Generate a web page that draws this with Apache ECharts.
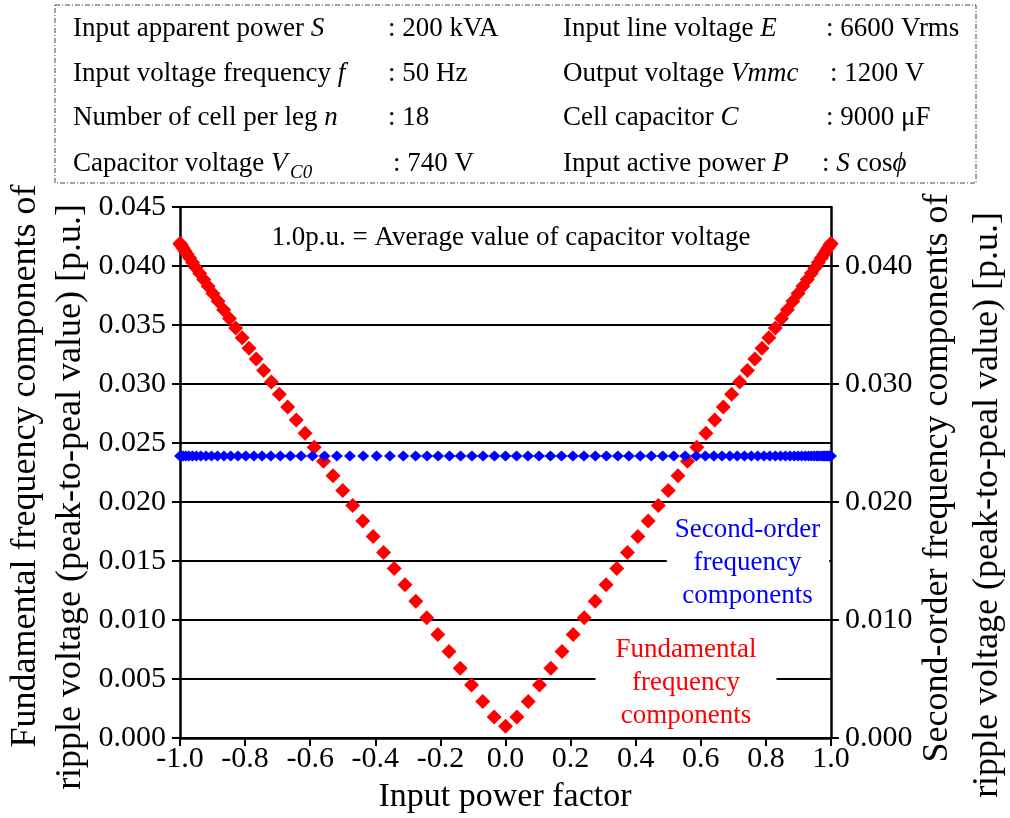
<!DOCTYPE html>
<html>
<head>
<meta charset="utf-8">
<script src="https://cdn.jsdelivr.net/npm/echarts@6/dist/echarts.min.js"></script>
<style>
  html, body { margin: 0; padding: 0; background: #fff; }
  #chart { width: 1010px; height: 818px; }
</style>
</head>
<body>
<div id="chart"></div>
<script>
// Input power factor (cos phi) for the fundamental-frequency ripple points
const fundX = [
  -1.0000, -0.9994, -0.9976, -0.9945, -0.9903, -0.9848, -0.9781, -0.9703, -0.9613, -0.9511,
  -0.9397, -0.9272, -0.9135, -0.8988, -0.8829, -0.8660, -0.8480, -0.8290, -0.8090, -0.7880,
  -0.7660, -0.7431, -0.7193, -0.6947, -0.6691, -0.6428, -0.6157, -0.5878, -0.5592, -0.5299,
  -0.5000, -0.4695, -0.4384, -0.4067, -0.3746, -0.3420, -0.3090, -0.2756, -0.2419, -0.2079,
  -0.1736, -0.1392, -0.1045, -0.0698, -0.0349, 0.0000,
  0.0349, 0.0698, 0.1045, 0.1392, 0.1736, 0.2079, 0.2419, 0.2756, 0.3090, 0.3420,
  0.3746, 0.4067, 0.4384, 0.4695, 0.5000, 0.5299, 0.5592, 0.5878, 0.6157, 0.6428,
  0.6691, 0.6947, 0.7193, 0.7431, 0.7660, 0.7880, 0.8090, 0.8290, 0.8480, 0.8660,
  0.8829, 0.8988, 0.9135, 0.9272, 0.9397, 0.9511, 0.9613, 0.9703, 0.9781, 0.9848,
  0.9903, 0.9945, 0.9976, 0.9994, 1.0000
];
// Fundamental-frequency ripple (peak-to-peak) [p.u.]
const fundY = [
  0.04191, 0.04189, 0.04181, 0.04168, 0.04151, 0.04128, 0.04099, 0.04067, 0.04029, 0.03986,
  0.03939, 0.03886, 0.03829, 0.03767, 0.03701, 0.03630, 0.03555, 0.03475, 0.03391, 0.03303,
  0.03211, 0.03115, 0.03016, 0.02913, 0.02805, 0.02695, 0.02582, 0.02465, 0.02345, 0.02222,
  0.02097, 0.01970, 0.01840, 0.01707, 0.01573, 0.01436, 0.01299, 0.01159, 0.01019, 0.00877,
  0.00734, 0.00592, 0.00449, 0.00309, 0.00177, 0.00100,
  0.00177, 0.00309, 0.00449, 0.00592, 0.00734, 0.00877, 0.01019, 0.01159, 0.01299, 0.01436,
  0.01573, 0.01707, 0.01840, 0.01970, 0.02097, 0.02222, 0.02345, 0.02465, 0.02582, 0.02695,
  0.02805, 0.02913, 0.03016, 0.03115, 0.03211, 0.03303, 0.03391, 0.03475, 0.03555, 0.03630,
  0.03701, 0.03767, 0.03829, 0.03886, 0.03939, 0.03986, 0.04029, 0.04067, 0.04099, 0.04128,
  0.04151, 0.04168, 0.04181, 0.04189, 0.04191
];
// Input power factor for the second-order ripple points
const secondX = [
  -1.000, -0.995, -0.990, -0.982, -0.973, -0.962, -0.950, -0.936, -0.920, -0.903,
  -0.885, -0.865, -0.844, -0.822, -0.798, -0.773, -0.748, -0.721, -0.692, -0.661,
  -0.628, -0.593, -0.556, -0.518, -0.478, -0.437, -0.396, -0.355, -0.314, -0.276,
  -0.241, -0.207, -0.172, -0.138, -0.103, -0.069, -0.034, 0.000, 0.034, 0.069,
  0.103, 0.138, 0.172, 0.207, 0.241, 0.276, 0.310, 0.345, 0.379, 0.414,
  0.448, 0.483, 0.517, 0.552, 0.586, 0.614, 0.640, 0.665, 0.689, 0.712,
  0.734, 0.755, 0.775, 0.794, 0.812, 0.829, 0.845, 0.860, 0.874, 0.887,
  0.899, 0.910, 0.921, 0.931, 0.940, 0.948, 0.956, 0.963, 0.970, 0.976,
  0.981, 0.986, 0.990, 0.994, 0.997, 1.000
];
// Second-order ripple (peak-to-peak) [p.u.]
const secondY = [
  0.0239, 0.0239, 0.0239, 0.0239, 0.0239, 0.0239, 0.0239, 0.0239, 0.0239, 0.0239,
  0.0239, 0.0239, 0.0239, 0.0239, 0.0239, 0.0239, 0.0239, 0.0239, 0.0239, 0.0239,
  0.0239, 0.0239, 0.0239, 0.0239, 0.0239, 0.0239, 0.0239, 0.0239, 0.0239, 0.0239,
  0.0239, 0.0239, 0.0239, 0.0239, 0.0239, 0.0239, 0.0239, 0.0239, 0.0239, 0.0239,
  0.0239, 0.0239, 0.0239, 0.0239, 0.0239, 0.0239, 0.0239, 0.0239, 0.0239, 0.0239,
  0.0239, 0.0239, 0.0239, 0.0239, 0.0239, 0.0239, 0.0239, 0.0239, 0.0239, 0.0239,
  0.0239, 0.0239, 0.0239, 0.0239, 0.0239, 0.0239, 0.0239, 0.0239, 0.0239, 0.0239,
  0.0239, 0.0239, 0.0239, 0.0239, 0.0239, 0.0239, 0.0239, 0.0239, 0.0239, 0.0239,
  0.0239, 0.0239, 0.0239, 0.0239, 0.0239, 0.0239
];
// Axis ticks of the right-hand scale
const rightTicks = [0, 0.01, 0.02, 0.03, 0.04];

// Parameter table (rich text: {i|...} is italic)
const paramLeftLabels = [
  '{n|Input apparent power }{i|S}',
  '{n|Input voltage frequency }{i|f}',
  '{n|Number of cell per leg }{i|n}',
  '{n|Capacitor voltage }{i|V}'
];
const paramLeftValues = [': 200 kVA', ': 50 Hz', ': 18', ': 740 V'];
const paramRightLabels = [
  '{n|Input line voltage }{i|E}',
  '{n|Output voltage }{i|Vmmc}',
  '{n|Cell capacitor }{i|C}',
  '{n|Input active power }{i|P}'
];
const paramRightValues = ['{n|: 6600 Vrms}', '{n|: 1200 V}', '{n|: 9000 μF}', '{n|: }{i|S}{n| cos}{i|ϕ}'];

const FONT = '"Liberation Serif", "Times New Roman", serif';
const chart = echarts.init(document.getElementById('chart'));

const rich = {
  n: { fontFamily: FONT, fontSize: 27, fill: '#000' },
  i: { fontFamily: FONT, fontSize: 27, fontStyle: 'italic', fill: '#000' }
};
const rowY = [29, 74, 118, 164];
const leftValueX = [388, 388, 388, 393];
const rightValueX = [826, 830, 826, 822];

const graphics = [];
graphics.push({
  type: 'rect', z: 1,
  shape: { x: 55, y: 5, width: 921, height: 178 },
  style: { fill: 'none', stroke: '#444', lineWidth: 1, lineDash: [5, 2, 1, 2] }
});
paramLeftLabels.forEach((t, i) => {
  graphics.push({ type: 'text', x: 73, y: rowY[i], z: 1,
    style: { text: t, rich: rich, align: 'left', verticalAlign: 'middle' } });
  graphics.push({ type: 'text', x: leftValueX[i], y: rowY[i], z: 1,
    style: { text: paramLeftValues[i], fontFamily: FONT, fontSize: 27, fill: '#000', align: 'left', verticalAlign: 'middle' } });
});
// subscript of V_C0
graphics.push({ type: 'text', x: 290, y: rowY[3] + 9, z: 1,
  style: { text: 'C0', fontFamily: FONT, fontSize: 19, fontStyle: 'italic', fill: '#000', align: 'left', verticalAlign: 'middle' } });
paramRightLabels.forEach((t, i) => {
  graphics.push({ type: 'text', x: 563, y: rowY[i], z: 1,
    style: { text: t, rich: rich, align: 'left', verticalAlign: 'middle' } });
  graphics.push({ type: 'text', x: rightValueX[i], y: rowY[i], z: 1,
    style: { text: paramRightValues[i], rich: rich, align: 'left', verticalAlign: 'middle' } });
});

// Annotations inside the plot
graphics.push({ type: 'text', x: 511, y: 238, z: 1,
  style: { text: '1.0p.u. = Average value of capacitor voltage', fontFamily: FONT, fontSize: 27, fill: '#000',
    align: 'center', verticalAlign: 'middle' } });
graphics.push({ type: 'text', x: 748, y: 563, z: 1,
  style: { text: 'Second-order\nfrequency\ncomponents', fontFamily: FONT, fontSize: 27, lineHeight: 33, fill: '#0000ff',
    align: 'center', verticalAlign: 'middle', backgroundColor: '#fff', padding: [4, 9, 4, 8] } });
graphics.push({ type: 'text', x: 686, y: 683, z: 1,
  style: { text: 'Fundamental\nfrequency\ncomponents', fontFamily: FONT, fontSize: 27, lineHeight: 33, fill: '#ff0000',
    align: 'center', verticalAlign: 'middle', backgroundColor: '#fff', padding: [3, 20, 3, 20] } });

// Axis titles
graphics.push({ type: 'text', x: 505, y: 797, z: 1,
  style: { text: 'Input power factor', fontFamily: FONT, fontSize: 34, fill: '#000', align: 'center', verticalAlign: 'middle' } });
graphics.push({ type: 'text', x: 26, y: 466, rotation: Math.PI / 2, z: 1,
  style: { text: 'Fundamental frequency components of', fontFamily: FONT, fontSize: 36, fill: '#000', align: 'center', verticalAlign: 'middle' } });
graphics.push({ type: 'text', x: 71, y: 497, rotation: Math.PI / 2, z: 1,
  style: { text: 'ripple voltage (peak-to-peal value) [p.u.]', fontFamily: FONT, fontSize: 36, fill: '#000', align: 'center', verticalAlign: 'middle' } });
graphics.push({ type: 'text', x: 938, y: 478, rotation: Math.PI / 2, z: 1,
  style: { text: 'Second-order frequency components of', fontFamily: FONT, fontSize: 36, fill: '#000', align: 'center', verticalAlign: 'middle' } });
graphics.push({ type: 'text', x: 988, y: 505, rotation: Math.PI / 2, z: 1,
  style: { text: 'ripple voltage (peak-to-peal value) [p.u.]', fontFamily: FONT, fontSize: 36, fill: '#000', align: 'center', verticalAlign: 'middle' } });

const tickFont = { fontFamily: FONT, fontSize: 30, color: '#000' };
const blackLine = { color: '#000', width: 2.5 };

chart.setOption({
  animation: false,
  backgroundColor: '#fff',
  grid: { left: 180, right: 179, top: 207, bottom: 80, containLabel: false },
  xAxis: {
    type: 'value', min: -1, max: 1, interval: 0.2,
    axisLine: { show: true, onZero: false, lineStyle: blackLine },
    axisTick: { show: true, inside: false, length: 8, lineStyle: { color: '#000', width: 2 } },
    axisLabel: Object.assign({ margin: 6, showMinLabel: true, showMaxLabel: true,
      formatter: v => (Math.abs(v) < 1e-9 ? 0 : v).toFixed(1) }, tickFont),
    splitLine: { show: false }
  },
  yAxis: [
    {
      type: 'value', position: 'left', min: 0, max: 0.045, interval: 0.005,
      axisLine: { show: true, onZero: false, lineStyle: blackLine },
      axisTick: { show: true, inside: false, length: 8, lineStyle: { color: '#000', width: 2 } },
      axisLabel: Object.assign({ margin: 14, formatter: v => v.toFixed(3) }, tickFont),
      splitLine: { show: true, lineStyle: { color: '#000', width: 2 } }
    },
    {
      type: 'value', position: 'right', min: 0, max: 0.045, interval: 0.01,
      axisLine: { show: true, onZero: false, lineStyle: blackLine },
      axisTick: { show: true, inside: false, length: 8, customValues: rightTicks, lineStyle: { color: '#000', width: 2 } },
      axisLabel: Object.assign({ margin: 14, customValues: rightTicks, formatter: v => v.toFixed(3) }, tickFont),
      splitLine: { show: false }
    }
  ],
  graphic: graphics,
  series: [
    {
      name: 'Fundamental frequency components',
      type: 'scatter', xAxisIndex: 0, yAxisIndex: 0, z: 3,
      symbol: 'diamond', symbolSize: 15,
      itemStyle: { color: '#ff0000', opacity: 1 },
      data: fundX.map((x, i) => [x, fundY[i]])
    },
    {
      name: 'Second-order frequency components',
      type: 'scatter', xAxisIndex: 0, yAxisIndex: 1, z: 4,
      symbol: 'diamond', symbolSize: [12, 11],
      itemStyle: { color: '#0000ff', opacity: 1 },
      data: secondX.map((x, i) => [x, secondY[i]])
    }
  ]
});
</script>
</body>
</html>
